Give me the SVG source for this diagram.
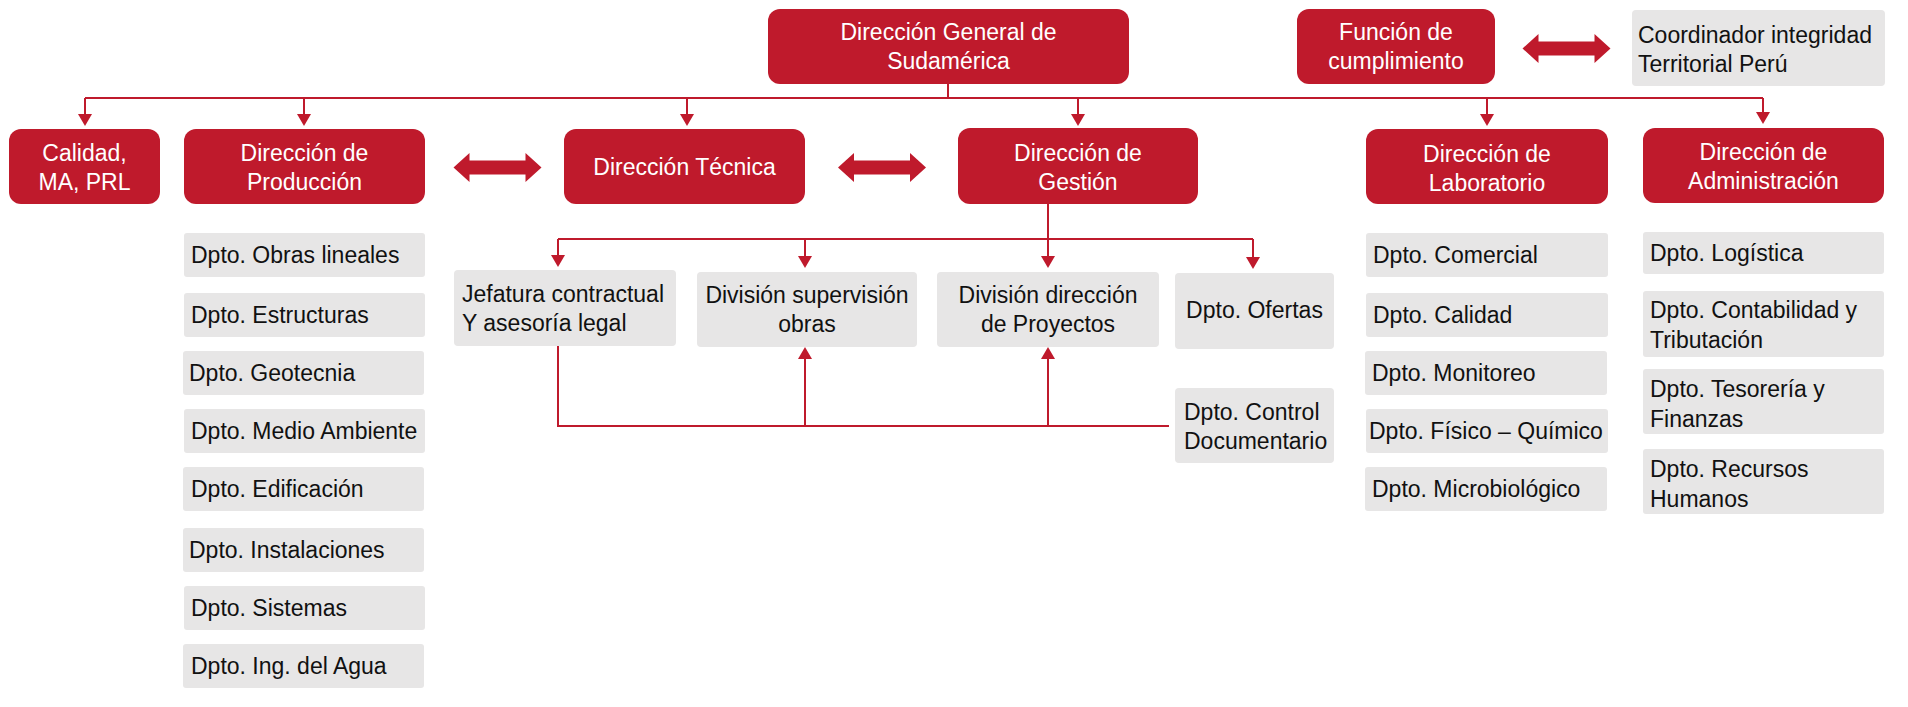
<svg xmlns="http://www.w3.org/2000/svg" xmlns:xlink="http://www.w3.org/1999/xlink" width="1908" height="707" viewBox="0 0 1908 707">
<style>
.red{fill:#BF1A2C;}
.gray{fill:#E7E6E6;}
.wt{fill:#FFFFFF;font-family:"Liberation Sans",Arial,sans-serif;font-size:23px;text-anchor:middle;}
.bt{fill:#111111;font-family:"Liberation Sans",Arial,sans-serif;font-size:23px;}
.c{text-anchor:middle;}
.ln{fill:none;stroke:#BF1A2C;stroke-width:2;}
.dbl{fill:#BF1A2C;}
</style>
<defs>
<marker id="ah" viewBox="0 -7 12 14" refX="9" refY="0" markerWidth="12" markerHeight="14" markerUnits="userSpaceOnUse" orient="auto">
<path d="M0,-7 L12,0 L0,7 Z" fill="#BF1A2C"/>
</marker>
<path id="dblarrow" d="M-44,0 L-28,-14.5 L-28,-7 L28,-7 L28,-14.5 L44,0 L28,14.5 L28,7 L-28,7 L-28,14.5 Z"/>
</defs>
<rect width="1908" height="707" fill="#FFFFFF"/>

<g id="connectors">
<path class="ln" d="M948,84 V98"/>
<path class="ln" d="M85,98 H1763"/>
<path class="ln" d="M85,98 V123" marker-end="url(#ah)"/>
<path class="ln" d="M304,98 V123" marker-end="url(#ah)"/>
<path class="ln" d="M687,98 V123" marker-end="url(#ah)"/>
<path class="ln" d="M1078,98 V123" marker-end="url(#ah)"/>
<path class="ln" d="M1487,98 V123" marker-end="url(#ah)"/>
<path class="ln" d="M1763,98 V121" marker-end="url(#ah)"/>
<path class="ln" d="M1048,204 V265" marker-end="url(#ah)"/>
<path class="ln" d="M558,239 H1253"/>
<path class="ln" d="M558,239 V264" marker-end="url(#ah)"/>
<path class="ln" d="M805,239 V265" marker-end="url(#ah)"/>
<path class="ln" d="M1253,239 V266" marker-end="url(#ah)"/>
<path class="ln" d="M558,346 V426 H1169"/>
<path class="ln" d="M805,426 V350" marker-end="url(#ah)"/>
<path class="ln" d="M1048,426 V350" marker-end="url(#ah)"/>
<use xlink:href="#dblarrow" href="#dblarrow" class="dbl" x="497.5" y="167.5"/>
<use xlink:href="#dblarrow" href="#dblarrow" class="dbl" x="882" y="167.5"/>
<use xlink:href="#dblarrow" href="#dblarrow" class="dbl" x="1566.5" y="48.5"/>
</g>

<g id="n-direccion-general">
<rect class="red" x="768" y="9" width="361" height="75" rx="12"/>
<text class="wt" x="948.5" y="40">Dirección General de</text>
<text class="wt" x="948.5" y="69">Sudamérica</text>
</g>
<g id="n-funcion-cumplimiento">
<rect class="red" x="1297" y="9" width="198" height="75" rx="12"/>
<text class="wt" x="1396" y="40">Función de</text>
<text class="wt" x="1396" y="69">cumplimiento</text>
</g>
<g id="n-coordinador">
<rect class="gray" x="1632" y="10" width="253" height="76" rx="4"/>
<text class="bt" x="1638" y="43">Coordinador integridad</text>
<text class="bt" x="1638" y="72">Territorial Perú</text>
</g>

<g id="n-calidad">
<rect class="red" x="9" y="129" width="151" height="75" rx="12"/>
<text class="wt" x="84.5" y="161">Calidad,</text>
<text class="wt" x="84.5" y="190">MA, PRL</text>
</g>
<g id="n-produccion">
<rect class="red" x="184" y="129" width="241" height="75" rx="12"/>
<text class="wt" x="304.5" y="161">Dirección de</text>
<text class="wt" x="304.5" y="190">Producción</text>
</g>
<g id="n-tecnica">
<rect class="red" x="564" y="129" width="241" height="75" rx="12"/>
<text class="wt" x="684.5" y="175">Dirección Técnica</text>
</g>
<g id="n-gestion">
<rect class="red" x="958" y="128" width="240" height="76" rx="12"/>
<text class="wt" x="1078" y="161">Dirección de</text>
<text class="wt" x="1078" y="190">Gestión</text>
</g>
<g id="n-laboratorio">
<rect class="red" x="1366" y="129" width="242" height="75" rx="12"/>
<text class="wt" x="1487" y="162">Dirección de</text>
<text class="wt" x="1487" y="191">Laboratorio</text>
</g>
<g id="n-administracion">
<rect class="red" x="1643" y="128" width="241" height="75" rx="12"/>
<text class="wt" x="1763.5" y="160">Dirección de</text>
<text class="wt" x="1763.5" y="189">Administración</text>
</g>

<g id="n-obras-lineales"><rect class="gray" x="184" y="233" width="241" height="44" rx="3"/><text class="bt" x="191" y="263">Dpto. Obras lineales</text></g>
<g id="n-estructuras"><rect class="gray" x="184" y="293" width="241" height="44" rx="3"/><text class="bt" x="191" y="323">Dpto. Estructuras</text></g>
<g id="n-geotecnia"><rect class="gray" x="183" y="351" width="241" height="44" rx="3"/><text class="bt" x="189" y="381">Dpto. Geotecnia</text></g>
<g id="n-medio-ambiente"><rect class="gray" x="184" y="409" width="241" height="44" rx="3"/><text class="bt" x="191" y="439">Dpto. Medio Ambiente</text></g>
<g id="n-edificacion"><rect class="gray" x="183" y="467" width="241" height="44" rx="3"/><text class="bt" x="191" y="497">Dpto. Edificación</text></g>
<g id="n-instalaciones"><rect class="gray" x="183" y="528" width="241" height="44" rx="3"/><text class="bt" x="189" y="558">Dpto. Instalaciones</text></g>
<g id="n-sistemas"><rect class="gray" x="184" y="586" width="241" height="44" rx="3"/><text class="bt" x="191" y="616">Dpto. Sistemas</text></g>
<g id="n-ing-agua"><rect class="gray" x="183" y="644" width="241" height="44" rx="3"/><text class="bt" x="191" y="674">Dpto. Ing. del Agua</text></g>

<g id="n-jefatura">
<rect class="gray" x="454" y="270" width="222" height="76" rx="4"/>
<text class="bt" x="462" y="302">Jefatura contractual</text>
<text class="bt" x="462" y="331">Y asesoría legal</text>
</g>
<g id="n-div-supervision">
<rect class="gray" x="697" y="272" width="220" height="75" rx="4"/>
<text class="bt c" x="807" y="303">División supervisión</text>
<text class="bt c" x="807" y="332">obras</text>
</g>
<g id="n-div-direccion">
<rect class="gray" x="937" y="272" width="222" height="75" rx="4"/>
<text class="bt c" x="1048" y="303">División dirección</text>
<text class="bt c" x="1048" y="332">de Proyectos</text>
</g>
<g id="n-ofertas">
<rect class="gray" x="1175" y="273" width="159" height="76" rx="4"/>
<text class="bt c" x="1254.5" y="318">Dpto. Ofertas</text>
</g>
<g id="n-control-documentario">
<rect class="gray" x="1175" y="388" width="159" height="75" rx="4"/>
<text class="bt" x="1184" y="420">Dpto. Control</text>
<text class="bt" x="1184" y="449">Documentario</text>
</g>

<g id="n-comercial"><rect class="gray" x="1366" y="233" width="242" height="44" rx="3"/><text class="bt" x="1373" y="263">Dpto. Comercial</text></g>
<g id="n-calidad-lab"><rect class="gray" x="1366" y="293" width="242" height="44" rx="3"/><text class="bt" x="1373" y="323">Dpto. Calidad</text></g>
<g id="n-monitoreo"><rect class="gray" x="1365" y="351" width="242" height="44" rx="3"/><text class="bt" x="1372" y="381">Dpto. Monitoreo</text></g>
<g id="n-fisico-quimico"><rect class="gray" x="1366" y="409" width="242" height="44" rx="3"/><text class="bt" x="1369" y="439">Dpto. Físico – Químico</text></g>
<g id="n-microbiologico"><rect class="gray" x="1365" y="467" width="242" height="44" rx="3"/><text class="bt" x="1372" y="497">Dpto. Microbiológico</text></g>

<g id="n-logistica"><rect class="gray" x="1643" y="232" width="241" height="42" rx="3"/><text class="bt" x="1650" y="261">Dpto. Logística</text></g>
<g id="n-contabilidad">
<rect class="gray" x="1643" y="291" width="241" height="66" rx="3"/>
<text class="bt" x="1650" y="318">Dpto. Contabilidad y</text>
<text class="bt" x="1650" y="348">Tributación</text>
</g>
<g id="n-tesoreria">
<rect class="gray" x="1643" y="369" width="241" height="65" rx="3"/>
<text class="bt" x="1650" y="397">Dpto. Tesorería y</text>
<text class="bt" x="1650" y="427">Finanzas</text>
</g>
<g id="n-recursos-humanos">
<rect class="gray" x="1643" y="449" width="241" height="65" rx="3"/>
<text class="bt" x="1650" y="477">Dpto. Recursos</text>
<text class="bt" x="1650" y="507">Humanos</text>
</g>
</svg>
